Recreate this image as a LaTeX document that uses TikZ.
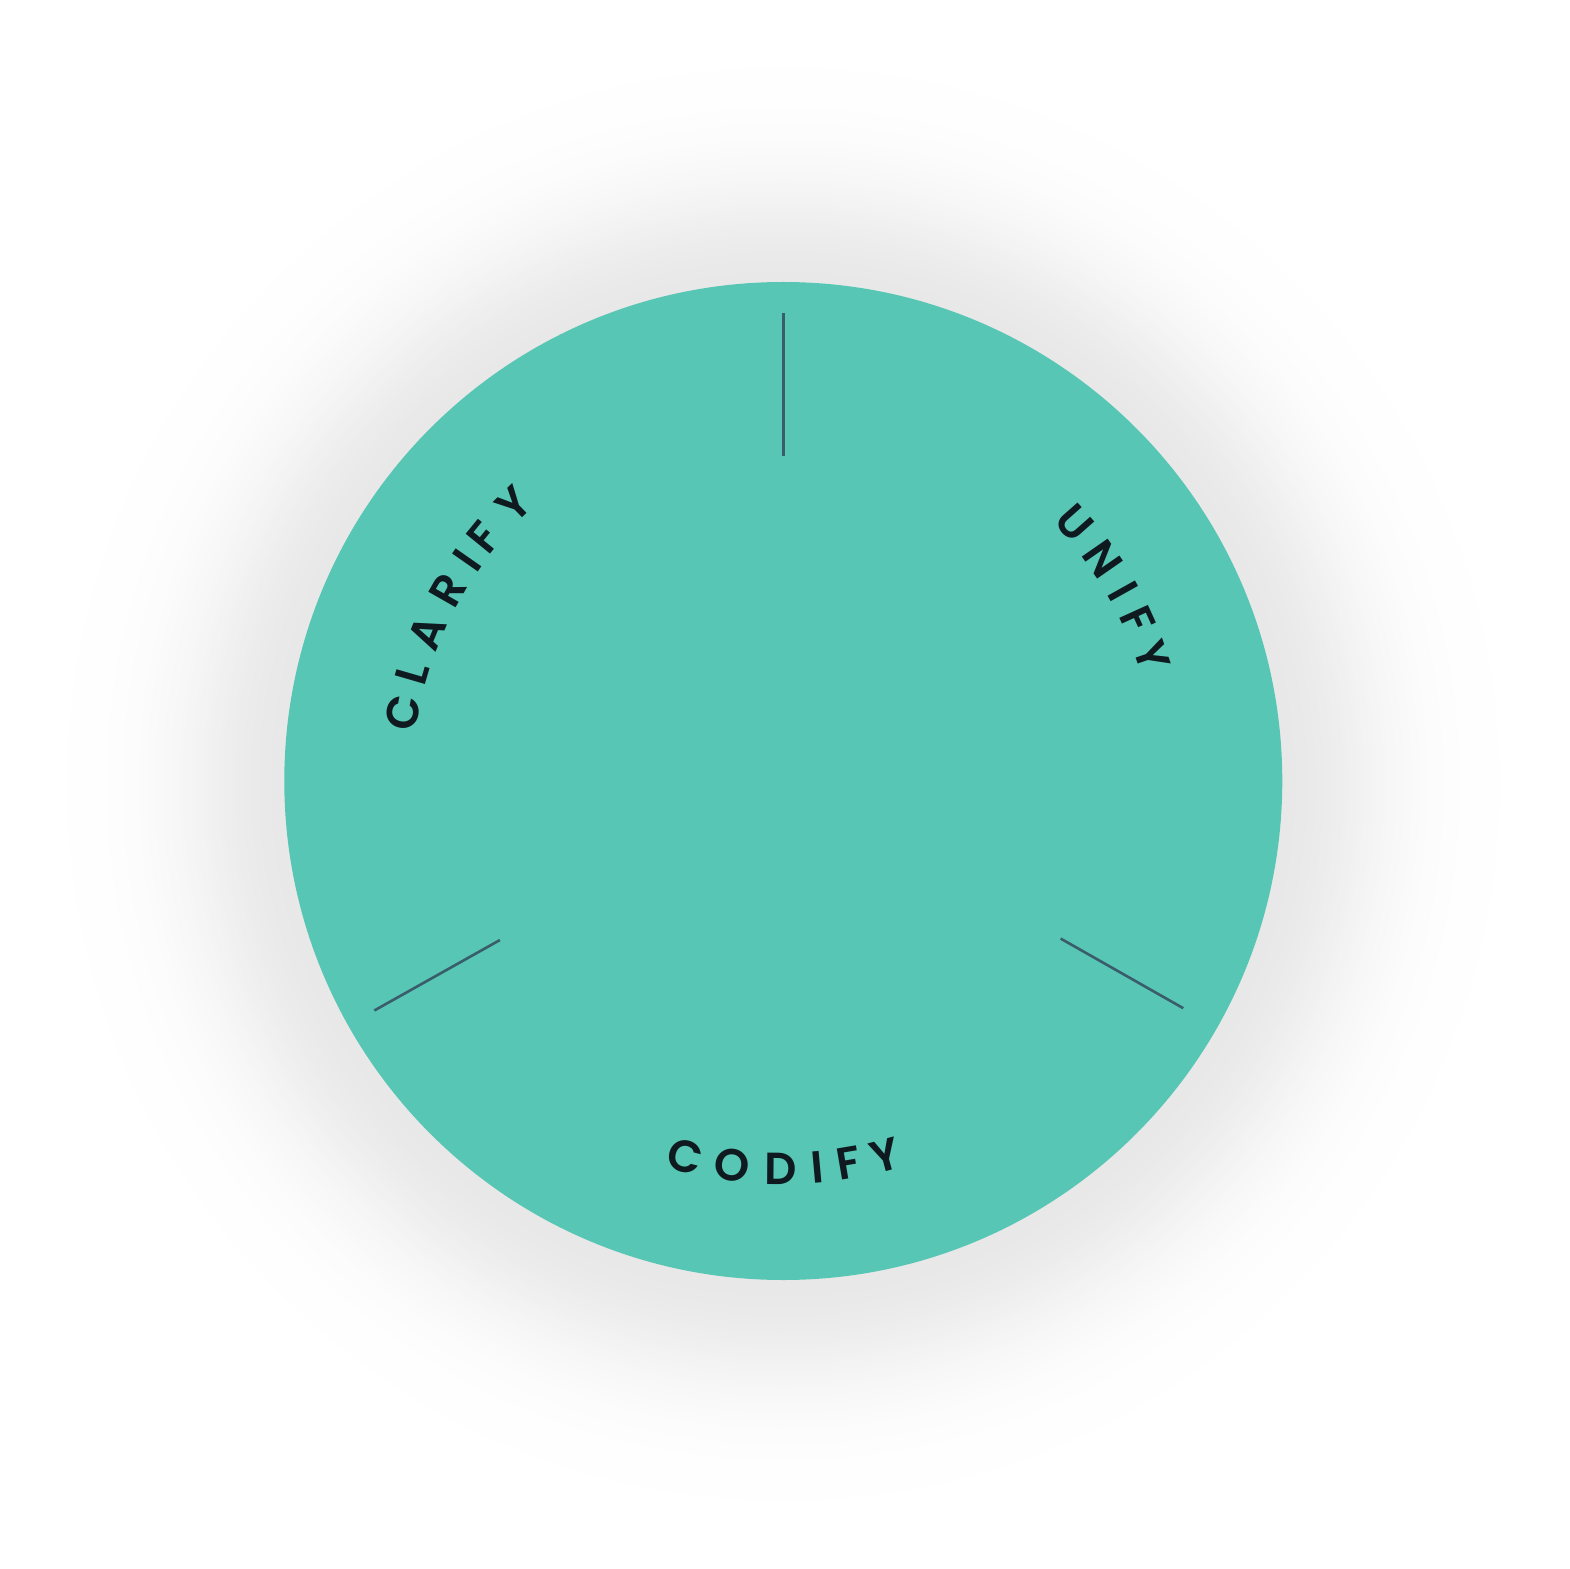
\documentclass[tikz,border=0pt]{standalone}
\usepackage{fontspec}
\definecolor{teal1}{HTML}{58C6B4}
\definecolor{rulecol}{HTML}{3A5D6B}
\definecolor{ink}{HTML}{0E1A20}
\IfFontExistsTF{Poppins SemiBold}{\newfontfamily\lab{Poppins SemiBold}}{\newfontfamily\lab{Poppins}[FakeBold=1.2]}
\begin{document}
\begin{tikzpicture}[x=1pt,y=1pt,
  letter/.style={font=\lab\fontsize{45}{50}\selectfont, text=ink, inner sep=0pt},
  divider/.style={draw=rulecol, line width=2.6pt}]
\useasboundingbox (-783.3,-788) rectangle (785.7,781);
\fill[white] (-783.3,-788) rectangle (785.7,781);
% soft shadow
\foreach \r in {780,776,...,500}{
  \pgfmathsetmacro\g{9*exp(-((\r-499)/108)^2)}
  \fill[black!\g] (0,-3) circle (\r);
}
\fill[teal1] (0,0) circle (499);
% dividers
\coordinate (t1) at (90:325);
\coordinate (t2) at (90:468);
\coordinate (l1) at (209.3:325);
\coordinate (l2) at (209.3:469);
\coordinate (r1) at (330.4:319);
\coordinate (r2) at (330.4:460);
\draw[divider] (t1) -- (t2);
\draw[divider] (l1) -- (l2);
\draw[divider] (r1) -- (r2);
% CLARIFY
\foreach \ch/\a [count=\i] in {C/169.8, L/163.8, A/157.4, R/150.3, I/145.1, F/140.8, Y/134.2}
  \node[letter, rotate=\a-90] (cl\i) at (\a:386) {\ch};
% UNIFY
\foreach \ch/\a [count=\i] in {U/41.5, N/34.8, I/29.2, F/24.4, Y/18.8}
  \node[letter, rotate=\a-90] (un\i) at (\a:389) {\ch};
% CODIFY
\foreach \ch/\a [count=\i] in {C/255.3, O/262.4, D/269.6, I/275.1, F/279.7, Y/285.2}
  \node[letter, rotate=\a+90] (co\i) at (\a:388) {\ch};
\end{tikzpicture}
\end{document}
